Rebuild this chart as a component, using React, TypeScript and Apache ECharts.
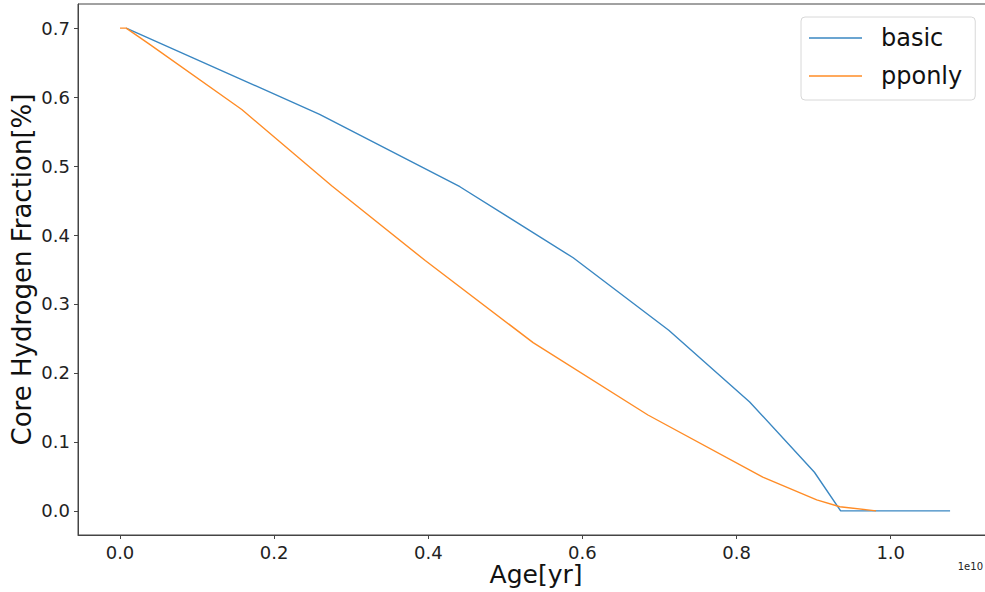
import React, { useEffect, useRef } from "react";
import * as echarts from "echarts";

const basicAge = [0.008, 0.259, 0.441, 0.588, 0.712, 0.817, 0.901, 0.935, 1.077];
const basicH = [0.7, 0.575, 0.47, 0.367, 0.262, 0.158, 0.056, 0.0, 0.0];

const pponlyAge = [0.0, 0.008, 0.039, 0.158, 0.275, 0.396, 0.536, 0.685, 0.834, 0.904, 0.934, 0.981];
const pponlyH = [0.7, 0.7, 0.676, 0.582, 0.471, 0.363, 0.244, 0.139, 0.049, 0.016, 0.006, 0.0];

const xTicks = [0, 0.2, 0.4, 0.6, 0.8, 1.0];
const yTicks = [0, 0.1, 0.2, 0.3, 0.4, 0.5, 0.6, 0.7];

const seriesNames = ["basic", "pponly"];
const colors = ["#3a87c2", "#ff8c26"];

const FONT = "DejaVu Sans";

export default function App() {
  const ref = useRef<HTMLDivElement>(null);
  useEffect(() => {
    if (!ref.current) return;
    const chart = echarts.init(ref.current, undefined, { renderer: "svg" });
    const zip = (xs: number[], ys: number[]) => xs.map((x, i) => [x, ys[i]]);
    chart.setOption({
      animation: false,
      backgroundColor: "#ffffff",
      grid: {
        left: 78,
        top: 4,
        width: 916,
        height: 531,
        outerBoundsMode: "none",
        containLabel: false,
        show: true,
        borderColor: "#444",
        borderWidth: 1,
        backgroundColor: "transparent",
      },
      xAxis: {
        type: "value",
        min: -0.0545,
        max: 1.134,
        name: "Age[yr]",
        nameLocation: "middle",
        nameGap: 27,
        nameMoveOverlap: false,
        nameTextStyle: { fontFamily: FONT, fontSize: 25, color: "#111" },
        axisLine: { show: true, onZero: false, lineStyle: { color: "#444", width: 1 } },
        axisTick: { show: true, length: 4, customValues: xTicks, lineStyle: { color: "#444" } },
        axisLabel: {
          customValues: xTicks,
          formatter: (v: number) => v.toFixed(1),
          fontFamily: FONT,
          fontSize: 18,
          color: "#222",
          margin: 8,
        },
        splitLine: { show: false },
      },
      yAxis: {
        type: "value",
        min: -0.035,
        max: 0.735,
        name: "Core Hydrogen Fraction[%]",
        nameLocation: "middle",
        nameGap: 43,
        nameMoveOverlap: false,
        nameTextStyle: { fontFamily: FONT, fontSize: 26, color: "#111" },
        axisLine: { show: true, onZero: false, lineStyle: { color: "#444", width: 1 } },
        axisTick: { show: true, length: 4, customValues: yTicks, lineStyle: { color: "#444" } },
        axisLabel: {
          customValues: yTicks,
          formatter: (v: number) => v.toFixed(1),
          fontFamily: FONT,
          fontSize: 18,
          color: "#222",
          margin: 8,
        },
        splitLine: { show: false },
      },
      legend: {
        left: 801,
        top: 17,
        orient: "vertical",
        padding: [7, 13, 10, 8],
        icon: "rect",
        itemWidth: 53,
        itemHeight: 1.5,
        itemGap: 10,
        backgroundColor: "#fff",
        borderColor: "#d8d8d8",
        borderWidth: 1,
        borderRadius: 4,
        textStyle: { fontFamily: FONT, fontSize: 24, color: "#111", lineHeight: 28, padding: [0, 0, 0, 14] },
        data: seriesNames,
      },
      graphic: [
        {
          type: "text",
          right: 2,
          top: 561,
          style: { text: "1e10", fontFamily: FONT, fontSize: 10, fill: "#222" },
        },
      ],
      series: [
        {
          name: seriesNames[0],
          type: "line",
          data: zip(basicAge, basicH),
          symbol: "none",
          lineStyle: { color: colors[0], width: 1.4 },
          itemStyle: { color: colors[0] },
        },
        {
          name: seriesNames[1],
          type: "line",
          data: zip(pponlyAge, pponlyH),
          symbol: "none",
          lineStyle: { color: colors[1], width: 1.4 },
          itemStyle: { color: colors[1] },
        },
      ],
    });
    return () => chart.dispose();
  }, []);
  return (
    <div
      ref={ref}
      style={{ position: "fixed", left: 0, top: 0, width: 985, height: 592, background: "#fff" }}
    />
  );
}
